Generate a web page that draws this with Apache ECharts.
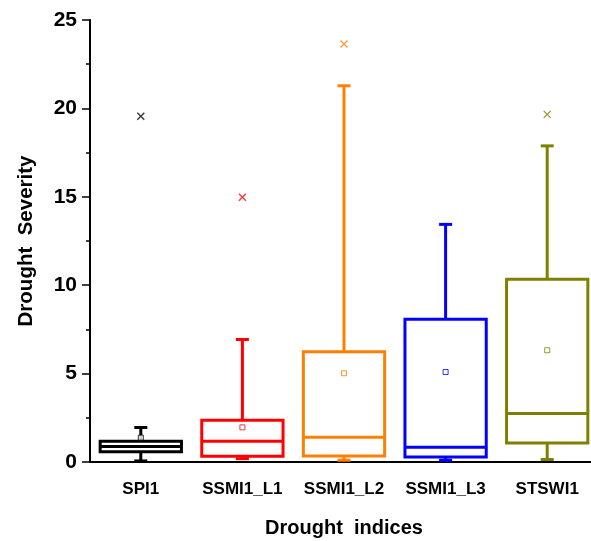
<!DOCTYPE html>
<html>
<head>
<meta charset="utf-8">
<script src="https://cdn.jsdelivr.net/npm/echarts@6/dist/echarts.min.js"></script>
<style>
  html, body { margin: 0; padding: 0; background: #fff; }
  #chart { width: 591px; height: 541px; }
</style>
</head>
<body>
<div id="chart"></div>
<script>
// Drought severity summary per index
const categories = ['SPI1', 'SSMI1_L1', 'SSMI1_L2', 'SSMI1_L3', 'STSWI1'];
const whiskerLow  = [0.06, 0.19, 0.10, 0.10, 0.14];
const quartile1   = [0.58, 0.32, 0.34, 0.28, 1.08];
const medians     = [0.87, 1.17, 1.40, 0.83, 2.74];
const quartile3   = [1.17, 2.36, 6.23, 8.08, 10.33];
const whiskerHigh = [1.95, 6.93, 21.28, 13.44, 17.88];
const means       = [1.38, 1.96, 5.02, 5.09, 6.32];
const extremes    = [19.56, 14.97, 23.64, null, 19.66];
const yTicks      = [0, 5, 10, 15, 20, 25];

const colors = ['#000000', '#FF0000', '#FF8000', '#0000FF', '#808000'];
const FONT = '"Liberation Sans", Arial, sans-serif';

const boxData = categories.map((c, i) =>
  [i, whiskerLow[i], quartile1[i], medians[i], quartile3[i], whiskerHigh[i]]);
const meanData = categories.map((c, i) => ({
  value: [i, means[i]],
  itemStyle: { color: '#fff', borderColor: colors[i], borderWidth: 1 }
}));
const extremeData = [];
categories.forEach((c, i) => {
  if (extremes[i] != null) {
    extremeData.push({
      value: [i, extremes[i]],
      itemStyle: { color: 'rgba(0,0,0,0)', borderColor: colors[i], borderWidth: 1.3 }
    });
  }
});

function renderBox(params, api) {
  const idx = api.value(0);
  const cLow = api.coord([idx, api.value(1)]);
  const cQ1 = api.coord([idx, api.value(2)]);
  const cMed = api.coord([idx, api.value(3)]);
  const cQ3 = api.coord([idx, api.value(4)]);
  const cHigh = api.coord([idx, api.value(5)]);
  const cx = cLow[0];
  const bw = api.size([1, 0])[0] * 0.8;
  const cap = 13;
  const color = colors[params.dataIndex];
  const stroke = { stroke: color, lineWidth: 3, fill: null };
  const line = (x1, y1, x2, y2) => ({
    type: 'line', shape: { x1, y1, x2, y2 }, style: stroke
  });
  return {
    type: 'group',
    children: [
      line(cx, cQ3[1], cx, cHigh[1]),
      line(cx, cQ1[1], cx, cLow[1]),
      line(cx - cap / 2, cHigh[1], cx + cap / 2, cHigh[1]),
      line(cx - cap / 2, cLow[1], cx + cap / 2, cLow[1]),
      {
        type: 'rect',
        shape: { x: cx - bw / 2, y: cQ3[1], width: bw, height: cQ1[1] - cQ3[1] },
        style: { stroke: color, lineWidth: 3, fill: null }
      },
      line(cx - bw / 2, cMed[1], cx + bw / 2, cMed[1])
    ]
  };
}

const chart = echarts.init(document.getElementById('chart'));
chart.setOption({
  animation: false,
  backgroundColor: '#fff',
  grid: { left: 90, top: 20, width: 508, height: 442, outerBoundsMode: 'none', containLabel: false },
  xAxis: {
    type: 'category',
    data: categories,
    boundaryGap: true,
    name: 'Drought  indices',
    nameLocation: 'middle',
    nameGap: 56,
    nameTextStyle: { fontFamily: FONT, fontWeight: 'bold', fontSize: 20, color: '#000' },
    axisLine: { lineStyle: { color: '#000', width: 2 } },
    axisTick: { alignWithLabel: true, interval: 0, length: 9, lineStyle: { color: '#000', width: 1.5 } },
    axisLabel: { interval: 0, fontFamily: FONT, fontWeight: 'bold', fontSize: 17, color: '#000', margin: 19 },
    splitLine: { show: false }
  },
  yAxis: {
    type: 'value',
    min: yTicks[0],
    max: yTicks[yTicks.length - 1],
    interval: 5,
    name: 'Drought  Severity',
    nameLocation: 'middle',
    nameGap: 53,
    nameTextStyle: { fontFamily: FONT, fontWeight: 'bold', fontSize: 20.5, color: '#000' },
    axisLine: { show: true, lineStyle: { color: '#000', width: 2 } },
    axisTick: { show: true, length: 8, lineStyle: { color: '#000', width: 1.5 } },
    minorTick: { show: true, splitNumber: 2, length: 4, lineStyle: { color: '#000', width: 1.5 } },
    axisLabel: { fontFamily: FONT, fontWeight: 'bold', fontSize: 21, color: '#000', margin: 13 },
    splitLine: { show: false }
  },
  series: [
    {
      type: 'custom',
      renderItem: renderBox,
      data: boxData,
      encode: { x: 0, y: [1, 2, 3, 4, 5] },
      z: 2
    },
    {
      type: 'scatter',
      data: meanData,
      symbol: 'rect',
      symbolSize: 5,
      z: 3
    },
    {
      type: 'scatter',
      data: extremeData,
      symbol: 'path://M0,0L10,10M10,0L0,10',
      symbolSize: 7,
      z: 3
    }
  ]
});
</script>
</body>
</html>
